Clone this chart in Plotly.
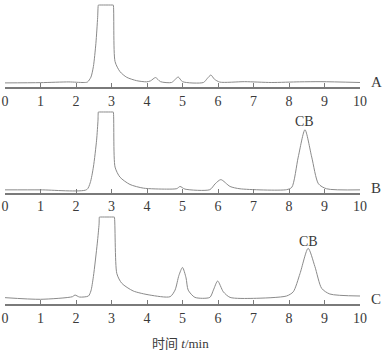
import plotly.graph_objects as go
from plotly.subplots import make_subplots

# ---- data (intensity in % of clipped full scale) ----
tA = [0, 1.0, 1.8, 2.2, 2.32, 2.42, 2.49, 2.56, 2.61, 2.63, 2.64, 3.04, 3.05, 3.1, 3.24, 3.43, 3.71, 3.99,
      4.1, 4.24, 4.38, 4.69, 4.8, 4.88, 5.0, 5.59, 5.7, 5.8, 5.9, 6.05, 6.75, 7.5, 8.3, 8.9, 10]
yA = [5.0, 5.3, 6.2, 5.5, 6.0, 12, 25, 53, 85, 100, 100, 100, 100, 31, 18.7, 11.8, 7.7, 6.3,
      7.5, 11.5, 6.5, 5.5, 9.5, 12.2, 6.5, 5.5, 10.5, 14.6, 9.5, 6.0, 6.5, 5.5, 6.3, 6.5, 5.5]

tB = [0, 1.0, 2.3, 2.4, 2.49, 2.58, 2.62, 2.63, 2.64, 3.04, 3.05, 3.1, 3.24, 3.52, 3.9, 4.55, 4.84, 4.93,
      5.07, 5.77, 5.92, 6.08, 6.34, 6.62, 7.93, 8.08, 8.26, 8.45, 8.64, 8.83, 9.06, 10]
yB = [3.3, 3.3, 3.5, 12, 31.7, 65, 90, 100, 100, 100, 100, 31.6, 19, 10, 5.4, 4.2, 4.8, 7.5,
      4.2, 3.5, 10.8, 16, 7.5, 4.6, 3.5, 6.5, 44, 78, 44, 10.8, 4.6, 3.3]

tC = [0, 1.0, 1.9, 1.97, 2.1, 2.35, 2.42, 2.49, 2.6, 2.65, 2.66, 2.67, 3.07, 3.08, 3.15, 3.29, 3.61, 4.08,
      4.65, 4.79, 4.9, 5.0, 5.1, 5.16, 5.35, 5.77, 5.87, 5.99, 6.15, 6.34, 7.0, 7.93, 8.12,
      8.31, 8.54, 8.73, 8.92, 9.15, 10]
yC = [7.3, 5.4, 8.4, 10.3, 8.0, 9.2, 15, 31.6, 70, 92, 100, 100, 100, 100, 35, 23.8, 15, 10.3,
      8.4, 16, 33, 42, 30, 16, 7.6, 7.6, 16, 26.4, 14, 7.6, 6.5, 9.2, 14,
      35, 64, 43, 18, 11.5, 9.2]

panel_labels = ["A", "B", "C"]
cb_labels = [None, ("CB", 8.45, 88), ("CB", 8.55, 72)]
x_ticks = list(range(0, 11))
x_title = "时间 <i>t</i>/min"

series = [(tA, yA), (tB, yB), (tC, yC)]

# ---- figure ----
W, H = 383, 350
fig = make_subplots(rows=3, cols=1)

domains = [(87, 5), (192.5, 112), (304, 217)]  # (axis px, plateau px)
YMAX = 103
serif = "Liberation Serif, Times New Roman, serif"
line_col = "#8a8a8a"
axis_col = "#7a7a7a"
text_col = "#3a3a3a"

for i, (t, y) in enumerate(series):
    r = i + 1
    fig.add_trace(go.Scatter(x=t, y=y, mode="lines", line=dict(color=line_col, width=1, shape="spline", smoothing=0.7),
                             hoverinfo="skip", showlegend=False), row=r, col=1)
    bot, top = domains[i]
    top_px = bot - (bot - top) * YMAX / 100
    xa = "xaxis" if r == 1 else f"xaxis{r}"
    ya = "yaxis" if r == 1 else f"yaxis{r}"
    fig.layout[xa].update(domain=[0, 1], range=[0, 10], tickvals=x_ticks, ticks="inside", ticklen=4,
                          tickwidth=1, tickcolor=axis_col, showline=True, linecolor=axis_col, linewidth=2,
                          showgrid=False, zeroline=False, tickfont=dict(family=serif, size=14, color=text_col))
    fig.layout[ya].update(domain=[1 - bot / H, 1 - top_px / H], range=[0, YMAX], visible=False,
                          showgrid=False, zeroline=False)
    xref = "x" if r == 1 else f"x{r}"
    yref = "y" if r == 1 else f"y{r}"
    fig.add_annotation(x=1, xref="paper", xshift=9, y=0, yref=yref, yshift=5, text=panel_labels[i],
                       showarrow=False, xanchor="left", yanchor="middle",
                       font=dict(family=serif, size=15, color=text_col))
    if cb_labels[i]:
        txt, cx, cy = cb_labels[i]
        fig.add_annotation(x=cx, y=cy, xref=xref, yref=yref, text=txt, showarrow=False,
                           xanchor="center", yanchor="middle",
                           font=dict(family=serif, size=14, color=text_col))

fig.add_annotation(x=(180 - 5) / 355, xref="paper", y=1 - 343 / H, yref="paper",
                   text=x_title, showarrow=False, xanchor="center", yanchor="middle",
                   font=dict(family="Liberation Serif, Noto Sans CJK SC, serif", size=13, color=text_col))

fig.update_layout(width=W, height=H, margin=dict(l=5, r=23, t=0, b=0),
                  paper_bgcolor="white", plot_bgcolor="white")

fig.write_html("out.html", config={"displayModeBar": False},
               post_script="document.body.style.margin='0';document.body.style.overflow='hidden';")
